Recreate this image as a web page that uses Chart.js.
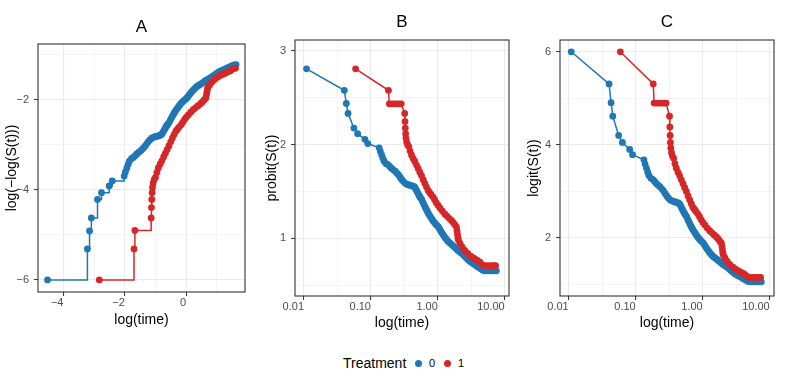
<!DOCTYPE html>
<html>
<head>
<meta charset="utf-8">
<script src="https://cdn.jsdelivr.net/npm/chart.js@4"></script>
<style>
  body { margin: 0; background: #fff; font-family: "Liberation Sans", Arial, sans-serif; }
  #wrap { position: relative; width: 793px; height: 377px; overflow: hidden; }
  canvas { position: absolute; top: 0; }
  .ttl { position: absolute; font-size: 17px; color: #000; transform: translate(-50%, -50%); }
  .leg { position: absolute; color: #000; line-height: 1; }
  .dot { position: absolute; width: 7px; height: 7px; border-radius: 50%; }
</style>
</head>
<body>
<div id="wrap">
  <canvas id="chartA" width="255" height="335" style="left:0px"></canvas>
  <canvas id="chartB" width="265" height="340" style="left:255px"></canvas>
  <canvas id="chartC" width="273" height="340" style="left:520px"></canvas>
  <div class="ttl" style="left:141.5px; top:27px">A</div>
  <div class="ttl" style="left:402px; top:22px">B</div>
  <div class="ttl" style="left:667px; top:22px">C</div>
  <div class="leg" style="left:343px; top:356px; font-size:14px">Treatment</div>
  <div class="dot" style="left:414.5px; top:359.5px; background:#1F77B4"></div>
  <div class="leg" style="left:429px; top:358px; font-size:11px">0</div>
  <div class="dot" style="left:443.5px; top:359.5px; background:#D62728"></div>
  <div class="leg" style="left:458px; top:358px; font-size:11px">1</div>
</div>
<script>
// survival curves, Treatment 0
const time0 = [0.0109, 0.0400, 0.0429, 0.0455, 0.0556, 0.0633, 0.0813, 0.0898,
  0.1327, 0.1381, 0.1451, 0.1511, 0.1572, 0.1686, 0.1791, 0.1900, 0.2000, 0.2140,
  0.2300, 0.2450, 0.2600, 0.2750, 0.2900, 0.3070, 0.3250, 0.3420, 0.3600, 0.3800,
  0.4000, 0.4150, 0.4300, 0.4450, 0.4580, 0.4730, 0.4900, 0.5050, 0.5200, 0.5350,
  0.5500, 0.5750, 0.5970, 0.6200, 0.6450, 0.6700, 0.6950, 0.7200, 0.7500, 0.7800,
  0.8150, 0.8500, 0.8900, 0.9300, 0.9750, 1.020, 1.060, 1.100, 1.150, 1.200,
  1.260, 1.320, 1.380, 1.440, 1.520, 1.600, 1.690, 1.780, 1.880, 1.980,
  2.130, 2.280, 2.440, 2.600, 2.770, 2.950, 3.120, 3.300, 3.460, 3.630,
  3.800, 4.000, 4.200, 4.400, 4.600, 4.800, 5.100,
  5.6, 6.2, 6.8, 7.5];
const surv0 = [0.99752, 0.99507, 0.99265, 0.99020, 0.98526, 0.98290, 0.98016, 0.97788,
  0.97534, 0.97305, 0.97055, 0.96813, 0.96586, 0.96379, 0.96300, 0.96150, 0.96000, 0.95850,
  0.95690, 0.95500, 0.95300, 0.95050, 0.94800, 0.94580, 0.94370, 0.94280, 0.94200, 0.94150,
  0.94100, 0.94050, 0.94000, 0.93920, 0.93800, 0.93550, 0.93300, 0.93050, 0.92800, 0.92600,
  0.92400, 0.92130, 0.91700, 0.91300, 0.90900, 0.90500, 0.90120, 0.89750, 0.89380, 0.89000,
  0.88600, 0.88200, 0.87850, 0.87500, 0.87200, 0.86880, 0.86450, 0.86000, 0.85500, 0.85000,
  0.84500, 0.84000, 0.83600, 0.83200, 0.82850, 0.82500, 0.82100, 0.81700, 0.81250, 0.80800,
  0.80350, 0.79900, 0.79300, 0.78700, 0.78150, 0.77600, 0.77250, 0.76900, 0.76600, 0.76310,
  0.75950, 0.75600, 0.75300, 0.75000, 0.74700, 0.74400, 0.74270,
  0.74270, 0.74270, 0.74270, 0.74270];

// Treatment 1
const time1 = [0.0590, 0.1827, 0.1882, 0.205, 0.225, 0.245, 0.265, 0.284,
  0.3198, 0.3230, 0.3263, 0.3300, 0.3340, 0.3420, 0.3530, 0.3680, 0.3850, 0.4040,
  0.4280, 0.4530, 0.4800, 0.5080, 0.5380, 0.5700, 0.6050, 0.6400, 0.6770, 0.7160,
  0.7500, 0.7900, 0.8500, 0.8950, 0.9500, 1.010, 1.080, 1.170, 1.270, 1.370,
  1.480, 1.600, 1.700, 1.800, 1.900, 1.940, 1.970, 2.000, 2.030, 2.150,
  2.320, 2.530, 2.800, 3.100, 3.350, 3.570, 3.900, 4.250, 4.600, 5.000,
  5.6, 6.2, 6.8, 7.3];
const surv1 = [0.99752, 0.99507, 0.99258, 0.99258, 0.99258, 0.99258, 0.99258, 0.99258,
  0.99020, 0.98768, 0.98526, 0.98290, 0.98080, 0.97880, 0.97720, 0.97610, 0.97330, 0.97060,
  0.96800, 0.96560, 0.96260, 0.95950, 0.95600, 0.95250, 0.94800, 0.94350, 0.93900, 0.93450,
  0.93200, 0.92900, 0.92510, 0.92100, 0.91600, 0.91150, 0.90700, 0.90150, 0.89620, 0.89200,
  0.88750, 0.88300, 0.87850, 0.87350, 0.86860, 0.86000, 0.85100, 0.84200, 0.83650, 0.82800,
  0.81700, 0.80780, 0.79900, 0.79100, 0.78600, 0.78230, 0.77700, 0.77200, 0.76400, 0.76000,
  0.76000, 0.76000, 0.76000, 0.76000];

const groups = ['0', '1'];
const colors = ['#1F77B4', '#D62728'];

// axis ticks (major = labelled, minor = grid only)
const ticksAx = [-4, -3, -2, -1, 0, 1];
const majorAx = [-4, -2, 0];
const ticksAy = [-6, -5, -4, -3, -2, -1];
const majorAy = [-6, -4, -2];
const logTicks = [0.01, 0.0316, 0.1, 0.316, 1, 3.16, 10];
const logMajor = [0.01, 0.1, 1, 10];
const logLabels = ['0.01', '0.10', '1.00', '10.00'];
const ticksBy = [0.5, 1, 1.5, 2, 2.5, 3];
const majorBy = [1, 2, 3];
const ticksCy = [1, 2, 3, 4, 5, 6];
const majorCy = [2, 4, 6];

const FONT = '"Liberation Sans", Arial, sans-serif';

// inverse normal cdf (Acklam)
function qnorm(p) {
  const a = [-3.969683028665376e+01, 2.209460984245205e+02, -2.759285104469687e+02, 1.383577518672690e+02, -3.066479806614716e+01, 2.506628277459239e+00];
  const b = [-5.447609879822406e+01, 1.615858368580409e+02, -1.556989798598866e+02, 6.680131188771972e+01, -1.328068155288572e+01];
  const c = [-7.784894002430293e-03, -3.223964580411365e-01, -2.400758276161838e+00, -2.549671348433374e+00, 4.374664141464968e+00, 2.938163982698783e+00];
  const d = [7.784695709041462e-03, 3.224671290700398e-01, 2.445134137142996e+00, 3.754408661907416e+00];
  const pl = 0.02425;
  let q, r;
  if (p < pl) {
    q = Math.sqrt(-2 * Math.log(p));
    return (((((c[0]*q+c[1])*q+c[2])*q+c[3])*q+c[4])*q+c[5]) / ((((d[0]*q+d[1])*q+d[2])*q+d[3])*q+1);
  }
  if (p <= 1 - pl) {
    q = p - 0.5; r = q * q;
    return (((((a[0]*r+a[1])*r+a[2])*r+a[3])*r+a[4])*r+a[5])*q / (((((b[0]*r+b[1])*r+b[2])*r+b[3])*r+b[4])*r+1);
  }
  q = Math.sqrt(-2 * Math.log(1 - p));
  return -(((((c[0]*q+c[1])*q+c[2])*q+c[3])*q+c[4])*q+c[5]) / ((((d[0]*q+d[1])*q+d[2])*q+d[3])*q+1);
}

const cloglog = (t, s) => t.map((v, i) => ({ x: Math.log(v), y: Math.log(-Math.log(s[i])) }))
  .filter((p, i) => i === 0 || s[i] < s[i - 1]);   // only event times in panel A
const probit = (t, s) => t.map((v, i) => ({ x: v, y: qnorm(s[i]) }));
const logit = (t, s) => t.map((v, i) => ({ x: v, y: Math.log(s[i] / (1 - s[i])) }));

const isIn = (arr, v) => arr.some(m => Math.abs(m - v) < 1e-6);
const fmt = v => (v < 0 ? '\u2212' : '') + Math.abs(v);

const panelBorder = {
  id: 'panelBorder',
  afterDraw(chart) {
    const { ctx, chartArea: a } = chart;
    ctx.save();
    ctx.strokeStyle = '#333333';
    ctx.lineWidth = 1.1;
    ctx.strokeRect(a.left, a.top, a.right - a.left, a.bottom - a.top);
    ctx.restore();
  }
};

function axis(o) {
  const major = o.major;
  return {
    type: o.type || 'linear',
    min: o.min,
    max: o.max,
    afterBuildTicks: s => { s.ticks = o.ticks.map(v => ({ value: v })); },
    afterFit: s => { if (o.width) s.width = o.width; if (o.height) s.height = o.height; },
    border: { display: false },
    grid: {
      color: '#EBEBEB',
      lineWidth: c => isIn(major, c.tick.value) ? 1.1 : 0.55,
      drawTicks: true,
      tickLength: 4,
      tickWidth: 1,
      tickColor: c => isIn(major, c.tick.value) ? '#333333' : 'rgba(0,0,0,0)'
    },
    ticks: {
      autoSkip: false,
      maxRotation: 0,
      align: o.height ? 'end' : 'center',
      padding: o.pad,
      color: '#4D4D4D',
      font: { family: FONT, size: 11 },
      callback: o.label
    },
    title: {
      display: true,
      text: o.title,
      color: '#000',
      font: { family: FONT, size: 14 },
      padding: o.titlePad
    }
  };
}

function makeChart(id, data, stepped, xAxis, yAxis, pad) {
  return new Chart(document.getElementById(id), {
    type: 'scatter',
    data: {
      datasets: data.map((d, i) => ({
        label: groups[i],
        data: d,
        order: i === 0 ? 1 : 0,
        showLine: true,
        stepped: stepped,
        borderColor: colors[i],
        backgroundColor: colors[i],
        borderWidth: 1.5,
        pointRadius: 3.4,
        pointBorderWidth: 0,
        pointHoverRadius: 3.4
      }))
    },
    options: {
      responsive: false,
      animation: false,
      devicePixelRatio: 1,
      events: [],
      layout: { padding: pad },
      plugins: { legend: { display: false }, tooltip: { enabled: false } },
      scales: { x: xAxis, y: yAxis }
    },
    plugins: [panelBorder]
  });
}

const logLabel = v => { const k = logMajor.findIndex(m => Math.abs(m - v) / m < 1e-6); return k >= 0 ? logLabels[k] : ''; };

makeChart('chartA',
  [cloglog(time0, surv0), cloglog(time1, surv1)], 'before',
  axis({ min: -4.83, max: 1.92, ticks: ticksAx, major: majorAx, height: 36.4, pad: 0.5,
         title: 'log(time)', titlePad: { top: 0, bottom: 0 },
         label: v => isIn(majorAx, v) ? fmt(v) : '' }),
  axis({ min: -6.267, max: -0.756, ticks: ticksAy, major: majorAy, width: 38, pad: 5,
         title: 'log(\u2212log(S(t)))', titlePad: { top: 3.6, bottom: 0 },
         label: v => isIn(majorAy, v) ? fmt(v) : '' }),
  { left: 0, top: 44, right: 10, bottom: 6.6 });

makeChart('chartB',
  [probit(time0, surv0), probit(time1, surv1)], false,
  axis({ type: 'logarithmic', min: Math.pow(10, -2.135), max: Math.pow(10, 1.064), ticks: logTicks, major: logMajor,
         height: 35.7, pad: 0.5, title: 'log(time)', titlePad: { top: 0, bottom: 0 }, label: logLabel }),
  axis({ min: 0.383, max: 3.118, ticks: ticksBy, major: majorBy, width: 40, pad: 5,
         title: 'probit(S(t))', titlePad: { top: 8.6, bottom: 0 },
         label: v => isIn(majorBy, v) ? String(v) : '' }),
  { left: 0, top: 40, right: 11, bottom: 8.3 });

makeChart('chartC',
  [logit(time0, surv0), logit(time1, surv1)], false,
  axis({ type: 'logarithmic', min: Math.pow(10, -2.13), max: Math.pow(10, 1.064), ticks: logTicks, major: logMajor,
         height: 35.7, pad: 0.5, title: 'log(time)', titlePad: { top: 0, bottom: 0 }, label: logLabel }),
  axis({ min: 0.755, max: 6.25, ticks: ticksCy, major: majorCy, width: 40, pad: 5,
         title: 'logit(S(t))', titlePad: { top: 5.6, bottom: 0 },
         label: v => isIn(majorCy, v) ? String(v) : '' }),
  { left: 0, top: 40, right: 19, bottom: 8.3 });
</script>
</body>
</html>
